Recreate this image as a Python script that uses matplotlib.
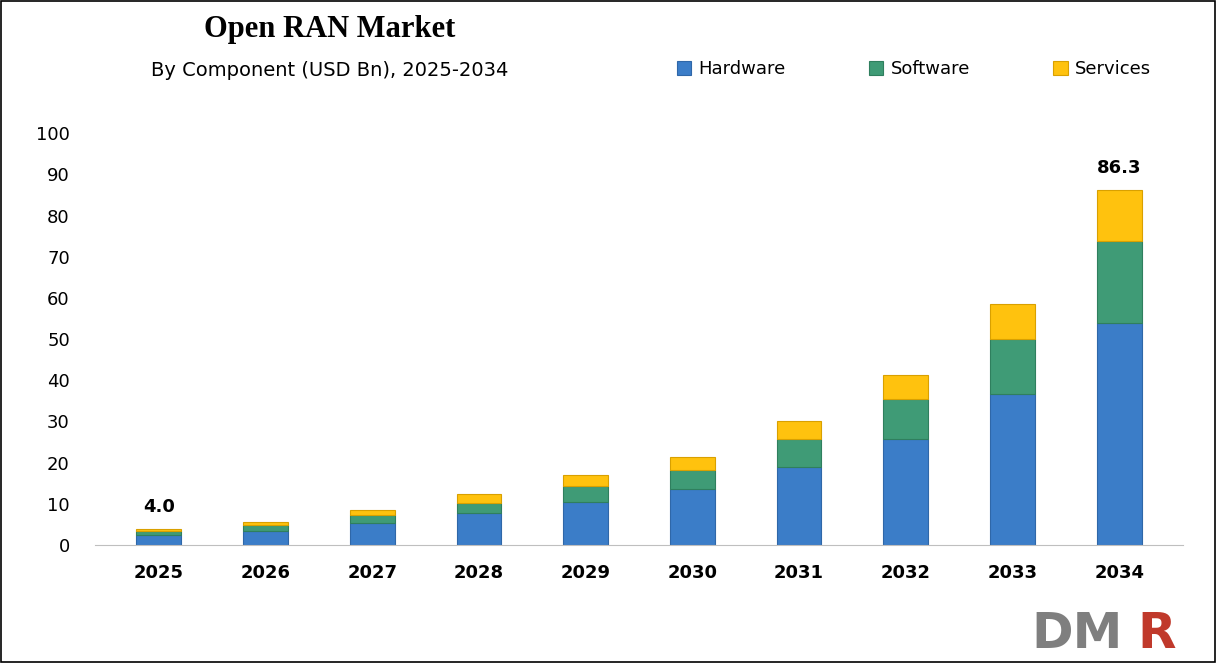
import matplotlib
matplotlib.use("Agg")
import matplotlib.pyplot as plt
from matplotlib.patches import Rectangle

years = ["2025","2026","2027","2028","2029","2030","2031","2032","2033","2034"]
hardware = [2.4, 3.4, 5.3, 7.8, 10.4, 13.6, 18.9, 25.7, 36.6, 53.9]
software = [1.0, 1.4, 2.1, 2.4, 3.9, 4.6, 6.8, 9.7, 13.4, 19.9]
services = [0.6, 0.8, 1.1, 2.2, 2.7, 3.2, 4.4, 5.9, 8.5, 12.5]
totals_shown = {0: "4.0", 9: "86.3"}

fig = plt.figure(figsize=(12.16, 6.63), dpi=100)
ax = fig.add_axes([0.078, 0.178, 0.895, 0.621])
x = range(len(years))
w = 0.42
c_h, c_s, c_v = "#3b7dc8", "#3f9b76", "#ffc20e"
ax.bar(x, hardware, w, color=c_h, edgecolor="#2f67a8", linewidth=0.8, label="Hardware")
ax.bar(x, software, w, bottom=hardware, color=c_s, edgecolor="#2f7f5e", linewidth=0.8, label="Software")
b2 = [h + s for h, s in zip(hardware, software)]
ax.bar(x, services, w, bottom=b2, color=c_v, edgecolor="#d9a000", linewidth=0.8, label="Services")
for i, t in totals_shown.items():
    tot = hardware[i] + software[i] + services[i]
    ax.text(i, tot + 3, t, ha="center", va="bottom", fontsize=13, fontweight="bold")
ax.set_ylim(0, 100)
ax.set_xlim(-0.6, 9.6)
ax.set_yticks(range(0, 101, 10))
ax.set_xticks(list(x))
ax.set_xticklabels(years, fontweight="bold", fontsize=13)
ax.tick_params(axis="y", labelsize=13, length=0, pad=18)
ax.tick_params(axis="x", length=0, pad=14)
for s in ["top", "right", "left"]:
    ax.spines[s].set_visible(False)
ax.spines["bottom"].set_color("#bfbfbf")
ax.legend(loc="center left", bbox_to_anchor=(0.52, 1.155), ncol=3, frameon=False,
          fontsize=13, handlelength=0.8, handleheight=0.8, columnspacing=4.6, handletextpad=0.4)
fig.text(0.271, 0.955, "Open RAN Market", ha="center", va="center", fontsize=22,
         fontweight="bold", family="Liberation Serif")
fig.text(0.271, 0.894, "By Component (USD Bn), 2025-2034", ha="center", va="center", fontsize=14)
fig.text(0.848, 0.008, "DM", ha="left", va="bottom", fontsize=36, fontweight="bold", color="#7f7f7f")
fig.text(0.935, 0.008, "R", ha="left", va="bottom", fontsize=36, fontweight="bold", color="#c0392b")
fig.patches.append(Rectangle((0.001, 0.001), 0.998, 0.998, transform=fig.transFigure,
                             fill=False, edgecolor="black", linewidth=1.2))
fig.savefig("out.png", dpi=100)
